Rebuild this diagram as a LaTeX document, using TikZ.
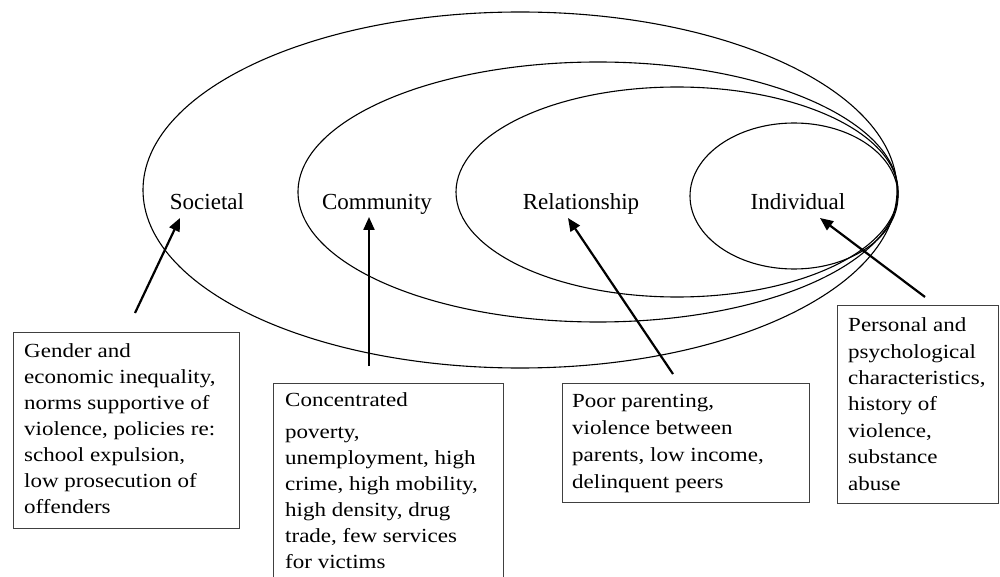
\documentclass[tikz,border=0pt]{standalone}
\usepackage{fontspec}
\setmainfont{Liberation Serif}
\newfontfamily\boxfont[FakeStretch=1.15]{Liberation Serif}
\usetikzlibrary{arrows.meta,calc}
\begin{document}
\begin{tikzpicture}[x=1pt,y=-1pt,
  ring/.style={draw=black, line width=1.1pt},
  level/.style={font=\fontsize{23}{27}\selectfont, inner sep=0pt, anchor=base},
  factbox/.style={draw=black!75, line width=1.4pt, inner sep=0pt, anchor=north west},
  facttext/.style={font=\boxfont\fontsize{20}{26}\selectfont, align=left, inner sep=0pt, anchor=base west},
  pointer/.style={line width=2.2pt, -{Triangle[length=13pt,width=11pt]}}]
\clip (0,0) rectangle (1000,577);
\fill[white] (0,0) rectangle (1000,577);

% nested levels of the ecological model
\draw[ring] (520,190) ellipse [x radius=377, y radius=178];
\draw[ring] (598,192) ellipse [x radius=300, y radius=130];
\draw[ring] (677,192) ellipse [x radius=221, y radius=105];
\draw[ring] (794,196) ellipse [x radius=104, y radius=73];

% level names
\node[level] (societal) at (207,210) {Societal};
\node[level] (community) at (377,210) {Community};
\node[level] (relationship) at (581,210) {Relationship};
\node[level] (individual) at (798,210) {Individual};

% risk factor boxes (text placed by the baseline of its last line)
\node[factbox, minimum width=226pt, minimum height=196pt] (gender) at (13,332) {};
\node[facttext] (gendertext) at ($(gender.north west)+(11,181)$)
  {Gender and\\economic inequality,\\norms supportive of\\violence, policies re:\\school expulsion,\\low prosecution of\\offenders};

\node[factbox, minimum width=230pt, minimum height=230pt] (poverty) at (273,383) {};
\node[facttext] (povertytext) at ($(poverty.north west)+(12,185)$)
  {Concentrated\\[6pt]poverty,\\unemployment, high\\crime, high mobility,\\high density, drug\\trade, few services\\for victims};

\node[factbox, minimum width=247pt, minimum height=119pt] (parenting) at (562,383) {};
\node[facttext, font=\boxfont\fontsize{20}{27}\selectfont] (parentingtext) at ($(parenting.north west)+(10,105)$)
  {Poor parenting,\\violence between\\parents, low income,\\delinquent peers};

\node[factbox, minimum width=161pt, minimum height=198pt] (personal) at (837,305) {};
\node[facttext, font=\boxfont\fontsize{20}{26.4}\selectfont] (personaltext) at ($(personal.north west)+(11,185)$)
  {Personal and\\psychological\\characteristics,\\history of\\violence,\\substance\\abuse};

% arrows from the factors to their level
\coordinate (socTail) at (135,313);
\coordinate (socTip) at (180,218);
\coordinate (comTail) at (369,366);
\coordinate (comTip) at (369,217);
\coordinate (relTail) at (673,374);
\coordinate (relTip) at (568,218);
\coordinate (indTail) at (925,297);
\coordinate (indTip) at (820,218);
\draw[pointer] (socTail) -- (socTip);
\draw[pointer] (comTail) -- (comTip);
\draw[pointer] (relTail) -- (relTip);
\draw[pointer] (indTail) -- (indTip);
\end{tikzpicture}
\end{document}
